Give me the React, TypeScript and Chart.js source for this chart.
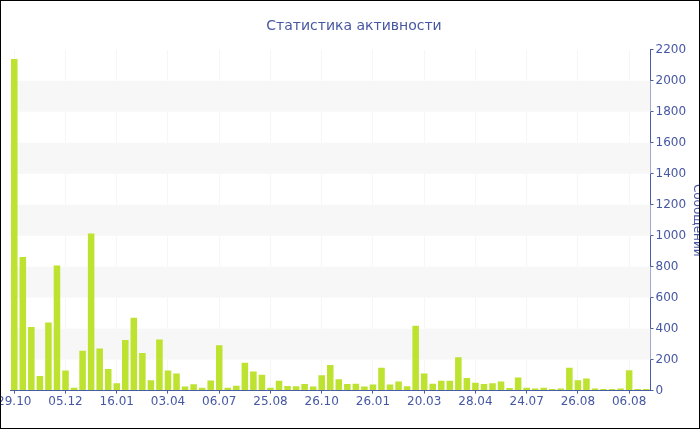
import { useEffect, useRef } from 'react';
import { Chart, registerables } from 'chart.js';

Chart.register(...registerables);

// Tick labels shown every 6th category
const tickLabels = ['29.10', '05.12', '16.01', '03.04', '06.07', '25.08', '26.10', '26.01', '20.03', '28.04', '24.07', '26.08', '06.08'];
const labelEvery = 6;

// Messages per period
const messages = [
  2140, 862, 410, 95, 440, 807, 129, 19, 257, 1014,
  272, 140, 47, 326, 470, 242, 67, 330, 129, 110,
  26, 41, 19, 65, 293, 19, 32, 179, 123, 103,
  19, 63, 30, 28, 43, 26, 99, 166, 73, 43,
  45, 26, 39, 147, 39, 58, 28, 418, 110, 45,
  63, 63, 216, 82, 50, 43, 47, 58, 17, 84,
  19, 13, 19, 11, 13, 147, 67, 78, 13, 10,
  10, 13, 131, 10, 10,
];

const categories = messages.map((_, i) => (i % labelEvery === 0 ? tickLabels[i / labelEvery] : ''));

const yMax = 2200;
const yStep = 200;

const TEXT = '#4657a3';
const AXIS = '#4a5ca6';
const FONT = 'DejaVu Sans';

const bandsPlugin = {
  id: 'bands',
  beforeDatasetsDraw(chart: any) {
    const { ctx, chartArea, scales } = chart;
    const y = scales.y;
    ctx.save();
    ctx.fillStyle = '#f7f7f7';
    for (let v = yStep; v < yMax; v += 2 * yStep) {
      const top = y.getPixelForValue(Math.min(v + yStep, yMax));
      const bottom = y.getPixelForValue(v);
      ctx.fillRect(chartArea.left, top, chartArea.right - chartArea.left, bottom - top);
    }
    ctx.restore();
  },
};

export default function App() {
  const ref = useRef<HTMLCanvasElement>(null);
  useEffect(() => {
    document.body.style.margin = '0';
    const chart = new Chart(ref.current!, {
      type: 'bar',
      data: {
        labels: categories,
        datasets: [
          {
            label: 'Сообщений',
            data: messages,
            backgroundColor: '#bde22f',
            borderWidth: 0,
            barPercentage: 0.85,
            categoryPercentage: 0.9,
          },
        ],
      },
      options: {
        responsive: false,
        animation: false,
        devicePixelRatio: 1,
        layout: { padding: { left: 8, right: 0, top: 0, bottom: 18 } },
        plugins: {
          legend: { display: false },
          tooltip: { enabled: false },
          title: {
            display: true,
            text: 'Статистика активности',
            color: TEXT,
            font: { family: FONT, size: 14, weight: 'normal' },
            padding: { top: 17, bottom: 15 },
          },
        },
        scales: {
          x: {
            afterFit: (scale: any) => {
              scale.paddingLeft = 9;
              scale.paddingRight = 0;
            },
            grid: {
              offset: false,
              drawOnChartArea: true,
              color: (c: any) => (categories[c.index] ? 'rgba(0,0,0,0.035)' : 'transparent'),
              tickColor: (c: any) => (categories[c.index] ? AXIS : 'transparent'),
              tickLength: 3,
            },
            border: { color: AXIS, width: 1 },
            ticks: {
              autoSkip: false,
              maxRotation: 0,
              minRotation: 0,
              padding: 1,
              color: TEXT,
              font: { family: FONT, size: 12 },
              callback: (_v: any, i: number) => categories[i],
            },
          },
          y: {
            position: 'right',
            min: 0,
            max: yMax,
            afterFit: (scale: any) => {
              scale.width = 48.5;
            },
            grid: { drawOnChartArea: false, tickLength: 3, tickColor: AXIS },
            border: { color: AXIS, width: 1 },
            ticks: {
              stepSize: yStep / 2,
              padding: 2,
              color: TEXT,
              font: { family: FONT, size: 12 },
              callback: (v: any) => (Number(v) % yStep === 0 ? String(v) : ''),
            },
            title: {
              display: true,
              text: 'Сообщений',
              color: TEXT,
              font: { family: FONT, size: 12 },
              padding: { top: -5.5, bottom: 0 },
            },
          },
        },
      },
      plugins: [bandsPlugin],
    });
    return () => chart.destroy();
  }, []);
  return (
    <div
      style={{
        position: 'absolute',
        left: 0,
        top: 0,
        width: 700,
        height: 429,
        border: '1px solid #000',
        boxSizing: 'border-box',
        overflow: 'hidden',
        background: '#fff',
      }}
    >
      <canvas ref={ref} width={698} height={427} style={{ display: 'block' }} />
    </div>
  );
}
